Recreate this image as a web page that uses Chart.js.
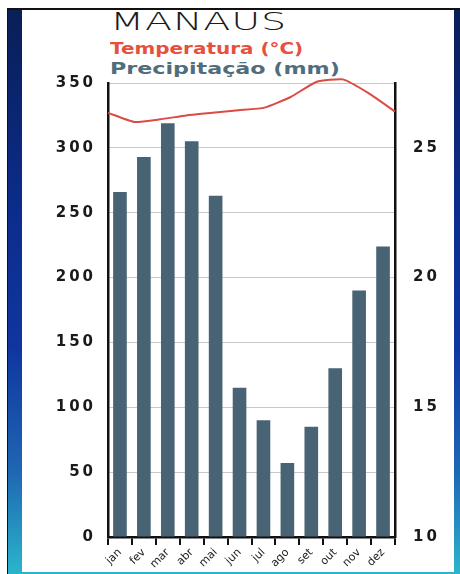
<!DOCTYPE html>
<html>
<head>
<meta charset="utf-8">
<script src="https://cdn.jsdelivr.net/npm/chart.js@4"></script>
<style>
  body { margin: 0; background: #fff; width: 460px; height: 574px; overflow: hidden; position: relative; }
  .frame {
    position: absolute; left: 7px; top: 8px; right: 0; bottom: 0;
    border-top: 2px solid #111; border-left: 1px solid #111;
    background: linear-gradient(to bottom, #0a1f57 0%, #0b2c8a 35%, #0f36a0 60%, #1f67b3 82%, #2bb5cb 100%);
  }
  .panel { position: absolute; left: 22px; top: 10px; width: 432px; bottom: 2px; background: #fff; }
  .txt { position: absolute; left: 110px; white-space: nowrap; line-height: 1; transform-origin: left top; font-family: "DejaVu Sans", sans-serif; }
  #city { top: 10px; font-size: 24px; font-weight: 300; color: #1a1a1a; letter-spacing: 0.5px; transform: scaleX(1.65); }
  #temp { top: 42px; font-size: 15px; font-weight: bold; color: #e6503c; transform: scaleX(1.33); }
  #prec { top: 62px; font-size: 15px; font-weight: bold; color: #4f6d7d; transform: scaleX(1.48); }
  canvas { position: absolute; left: 0; top: 0; }
</style>
</head>
<body>
<div class="frame"></div>
<div class="panel"></div>
<div class="txt" id="city">MANAUS</div>
<div class="txt" id="temp">Temperatura (°C)</div>
<div class="txt" id="prec">Precipitação (mm)</div>
<canvas id="myChart" width="460" height="574"></canvas>
<script>
// months along the bottom
const months = ['jan', 'fev', 'mar', 'abr', 'mai', 'jun', 'jul', 'ago', 'set', 'out', 'nov', 'dez'];

// precipitation in mm (bars, left axis)
const precipitation = [266, 293, 319, 305, 263, 115, 90, 57, 85, 130, 190, 224];

// temperature in °C (line, right axis)
const temperature = [26.35, 26.0, 26.1, 26.25, 26.35, 26.45, 26.55, 26.96, 27.55, 27.64, 27.1, 26.4];

// tick values shown on each side
const mmTicks = [0, 50, 100, 150, 200, 250, 300, 350];
const tempTicks = [10, 15, 20, 25];

// wider digits on the two value axes, like the printed chart
const wideText = {
    id: 'wideText',
    afterLayout(chart) {
        ['y', 'y1'].forEach(id => {
            const s = chart.scales[id];
            if (!s || s._wide) return;
            const orig = s.drawLabels.bind(s);
            s.drawLabels = function (area) {
                chart.ctx.save();
                chart.ctx.letterSpacing = '3px';
                orig(area);
                chart.ctx.restore();
            };
            s._wide = true;
        });
    }
};

const myChart = document.getElementById('myChart');

let climateChart = new Chart(myChart, {
    type: 'bar',
    data: {
        labels: months,
        datasets: [
            {
                type: 'line',
                label: 'Temperatura (°C)',
                data: temperature,
                xAxisID: 'x2',
                yAxisID: 'y1',
                borderColor: '#dc4a44',
                borderWidth: 2,
                pointRadius: 0,
                tension: 0.15,
                clip: false,
                order: 0
            },
            {
                type: 'bar',
                label: 'Precipitação (mm)',
                data: precipitation,
                xAxisID: 'x',
                yAxisID: 'y',
                backgroundColor: '#476374',
                barPercentage: 0.57,
                categoryPercentage: 1,
                grouped: false,
                order: 1
            }
        ]
    },
    plugins: [wideText],
    options: {
        responsive: false,
        animation: false,
        layout: { padding: { top: 83, left: 0, right: 0, bottom: 0 } },
        plugins: { legend: { display: false }, tooltip: { enabled: false } },
        scales: {
            x: {
                afterFit: s => { s.height = 37; },
                border: { color: '#111', width: 2.5 },
                grid: { drawOnChartArea: false, drawTicks: true, tickLength: 8, color: '#111', lineWidth: 2 },
                ticks: { maxRotation: 45, minRotation: 45, padding: 1, color: '#222', font: { family: 'DejaVu Sans', size: 11 } }
            },
            x2: {
                type: 'category',
                display: false,
                offset: false
            },
            y: {
                position: 'left',
                min: 0,
                max: 350,
                afterFit: s => { s.width = 108; },
                afterBuildTicks: s => { s.ticks = mmTicks.map(v => ({ value: v })); },
                border: { color: '#111', width: 2.5 },
                grid: { color: '#c8c8c8', lineWidth: 1, drawTicks: false },
                ticks: { padding: 12, color: '#1a1a1a', font: { family: 'DejaVu Sans', size: 15, weight: 'bold' } }
            },
            y1: {
                position: 'right',
                min: 10,
                max: 27.5,
                afterFit: s => { s.width = 65; },
                afterBuildTicks: s => { s.ticks = tempTicks.map(v => ({ value: v })); },
                border: { color: '#111', width: 2.5 },
                grid: { drawOnChartArea: false, drawTicks: false },
                ticks: { padding: 18, color: '#1a1a1a', font: { family: 'DejaVu Sans', size: 15, weight: 'bold' } }
            }
        }
    }
});
</script>
</body>
</html>
